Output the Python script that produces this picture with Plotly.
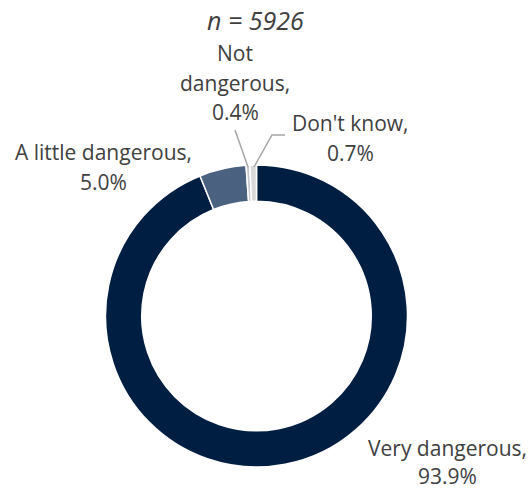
import plotly.graph_objects as go

W, H = 531, 490

categories = ["Very dangerous", "A little dangerous", "Not dangerous", "Don't know"]
values = [93.9, 5.0, 0.4, 0.7]
colors = ["#001E41", "#4B6180", "#C4C8CC", "#D9D9D9"]
title_text = "n = 5926"

FONT = "Open Sans"
TXT = "#404040"

# donut geometry in pixels
cx, cy, r = 256.5, 316, 151

fig = go.Figure(go.Pie(
    labels=categories,
    values=values,
    sort=False,
    direction="clockwise",
    rotation=0,
    hole=0.76,
    marker=dict(colors=colors, line=dict(color="white", width=1.5)),
    textinfo="none",
    hoverinfo="label+percent",
    domain=dict(x=[(cx - r) / W, (cx + r) / W], y=[1 - (cy + r) / H, 1 - (cy - r) / H]),
    showlegend=False,
))

def px(x):
    return x / W

def py(y):
    return 1 - y / H

annotations = []

def add_lines(lines, x, y0, spacing=30, size=21):
    for i, t in enumerate(lines):
        annotations.append(dict(
            text=t, x=px(x), y=py(y0 + i * spacing), xref="paper", yref="paper",
            xanchor="center", yanchor="middle", showarrow=False,
            font=dict(family=FONT, size=size, color=TXT),
        ))

# title
annotations.append(dict(
    text="<i>" + title_text + "</i>", x=px(255), y=py(20), xref="paper", yref="paper",
    xanchor="center", yanchor="middle", showarrow=False,
    font=dict(family=FONT, size=25, color=TXT),
))

label_pos = {
    "Very dangerous": (447, 448, False, 28),
    "A little dangerous": (103, 152, False, 29.5),
    "Not dangerous": (235, 53, True, 29.5),
    "Don't know": (350, 123, False, 29.5),
}
for cat, val in zip(categories, values):
    x, y, split, sp = label_pos[cat]
    if split:
        words = cat.split(" ")
        lines = words[:-1] + [words[-1] + ","] + [f"{val:.1f}%"]
    else:
        lines = [cat + ",", f"{val:.1f}%"]
    add_lines(lines, x, y, spacing=sp)

shapes = [
    dict(type="path", xref="paper", yref="paper",
         path=f"M {px(235)},{py(130)} L {px(248)},{py(167)}",
         line=dict(color="#A6A6A6", width=1.5)),
    dict(type="path", xref="paper", yref="paper",
         path=f"M {px(254)},{py(167)} L {px(272)},{py(135)} L {px(285)},{py(135)}",
         line=dict(color="#A6A6A6", width=1.5)),
]

fig.update_layout(
    width=W, height=H,
    margin=dict(l=0, r=0, t=0, b=0),
    paper_bgcolor="white",
    plot_bgcolor="white",
    annotations=annotations,
    shapes=shapes,
    font=dict(family=FONT, color=TXT),
)

fig.write_html("out.html")
